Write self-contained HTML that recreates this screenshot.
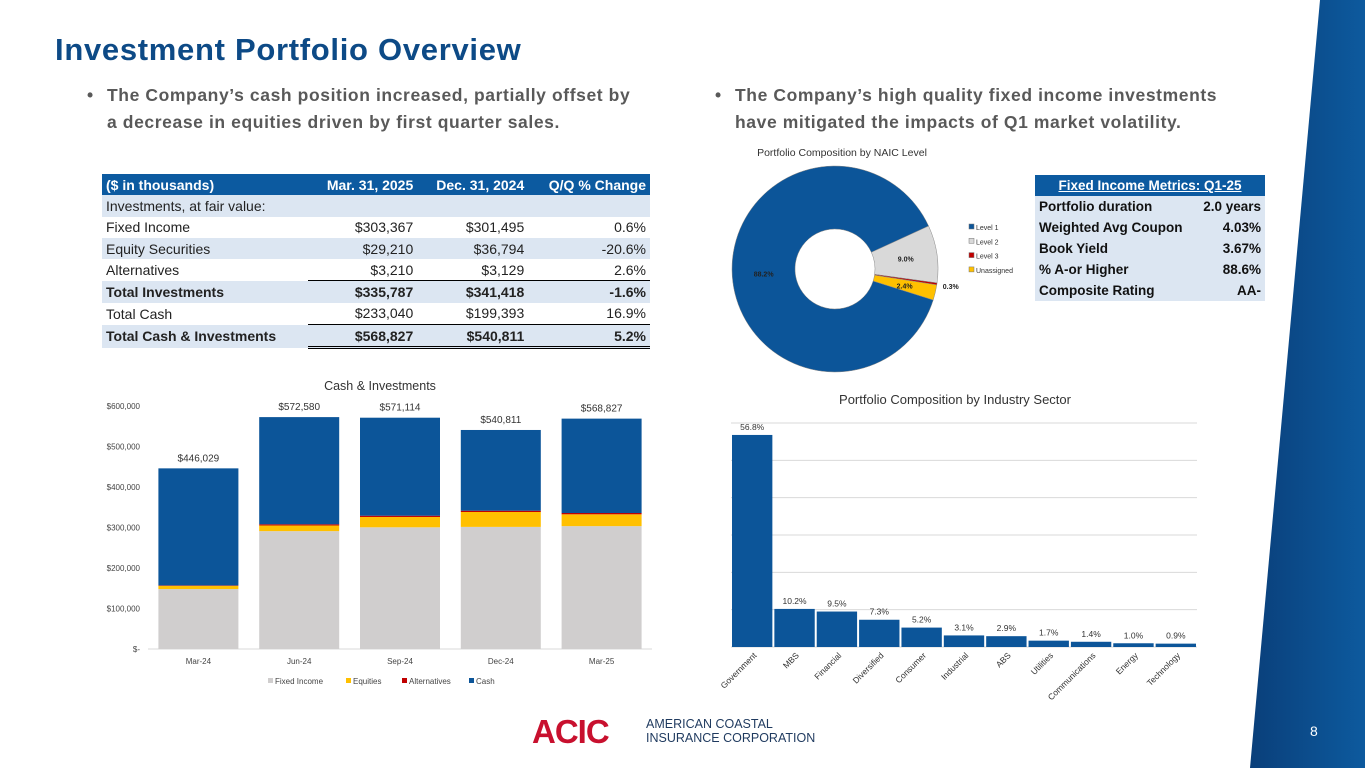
<!DOCTYPE html>
<html><head><meta charset="utf-8">
<style>
body{margin:0;width:1365px;height:768px;overflow:hidden;background:#fff;font-family:"Liberation Sans",sans-serif;position:relative}
.abs{position:absolute}
h1{position:absolute;left:55px;top:32px;margin:0;font-size:31px;color:#0d4a86;font-weight:bold;letter-spacing:0.7px}
.bul{position:absolute;font-size:17.5px;font-weight:bold;color:#595959;line-height:27px;letter-spacing:0.6px}
.bul span.dot{position:absolute;left:-20px}
table{border-collapse:collapse;font-family:"Liberation Sans",sans-serif}
#fin{position:absolute;left:102px;top:174px;width:548px;font-size:14px;color:#222}
#fin td{height:21.3px;padding:0 4px;white-space:nowrap}
#fin tr.h td{background:#0c5aa0;color:#fff;font-weight:bold}
#fin tr.l td{background:#dce6f2}
#fin td.r{text-align:right}
#fin tr.b td{font-weight:bold}
#met{position:absolute;left:1035px;top:175px;width:230px;font-size:13.5px;font-weight:bold;color:#111}
#met td{background:#dce6f2;height:21px;padding:0 4px;white-space:nowrap}
#met tr.h td{background:#0c5aa0;color:#fff;text-align:center;text-decoration:underline}
</style></head><body>
<svg class="abs" style="left:0;top:0" width="1365" height="768">
<defs><linearGradient id="g" x1="0" x2="1"><stop offset="0" stop-color="#0a3f7a"/><stop offset="1" stop-color="#0d5a9e"/></linearGradient></defs>
<polygon points="1320,0 1365,0 1365,768 1250,768" fill="url(#g)"/>
<text x="1310" y="736" fill="#fff" font-size="14" font-family="Liberation Sans">8</text>
</svg>
<h1>Investment Portfolio Overview</h1>
<div class="bul" style="left:107px;top:82px;width:545px"><span class="dot">•</span>The Company’s cash position increased, partially offset by<br>a decrease in equities driven by first quarter sales.</div>
<div class="bul" style="left:735px;top:82px;width:520px"><span class="dot">•</span>The Company’s high quality fixed income investments have mitigated the impacts of Q1 market volatility.</div>

<table id="fin">
<tr class="h"><td>($ in thousands)</td><td class="r">Mar. 31, 2025</td><td class="r">Dec. 31, 2024</td><td class="r">Q/Q % Change</td></tr>
<tr class="l"><td>Investments, at fair value:</td><td></td><td></td><td></td></tr>
<tr><td>Fixed Income</td><td class="r">$303,367</td><td class="r">$301,495</td><td class="r">0.6%</td></tr>
<tr class="l"><td>Equity Securities</td><td class="r">$29,210</td><td class="r">$36,794</td><td class="r">-20.6%</td></tr>
<tr><td>Alternatives</td><td class="r">$3,210</td><td class="r">$3,129</td><td class="r">2.6%</td></tr>
<tr class="l b"><td>Total Investments</td><td class="r" style="border-top:1px solid #000">$335,787</td><td class="r" style="border-top:1px solid #000">$341,418</td><td class="r" style="border-top:1px solid #000">-1.6%</td></tr>
<tr><td>Total Cash</td><td class="r">$233,040</td><td class="r">$199,393</td><td class="r">16.9%</td></tr>
<tr class="l b"><td>Total Cash &amp; Investments</td><td class="r" style="border-top:1px solid #000;border-bottom:3px double #000">$568,827</td><td class="r" style="border-top:1px solid #000;border-bottom:3px double #000">$540,811</td><td class="r" style="border-top:1px solid #000;border-bottom:3px double #000">5.2%</td></tr>
</table>

<table id="met">
<tr class="h"><td colspan="2">Fixed Income Metrics: Q1-25</td></tr>
<tr><td>Portfolio duration</td><td style="text-align:right">2.0 years</td></tr>
<tr><td>Weighted Avg Coupon</td><td style="text-align:right">4.03%</td></tr>
<tr><td>Book Yield</td><td style="text-align:right">3.67%</td></tr>
<tr><td>% A-or Higher</td><td style="text-align:right">88.6%</td></tr>
<tr><td>Composite Rating</td><td style="text-align:right">AA-</td></tr>
</table>

<svg id="c1" class="abs" style="left:0;top:0" width="1365" height="768"></svg>

<div class="abs" style="left:530px;top:712px;width:300px;height:40px">
<span style="position:absolute;left:2px;top:1px;font-size:33px;font-weight:bold;color:#c8102e;letter-spacing:-1px">ACIC</span>
<span style="position:absolute;left:116px;top:5px;font-size:12.5px;color:#1f3a5f;line-height:14px">AMERICAN COASTAL<br>INSURANCE CORPORATION</span>
</div>

<script>
const NS="http://www.w3.org/2000/svg";
const svg=document.getElementById('c1');
function mk(tag,attrs,parent,txt){const e=document.createElementNS(NS,tag);for(const k in attrs)e.setAttribute(k,attrs[k]);if(txt!==undefined)e.textContent=txt;(parent||svg).appendChild(e);return e;}

// ---- Cash & Investments stacked bar ----
const periods=["Mar-24","Jun-24","Sep-24","Dec-24","Mar-25"];
const fixedIncome=[148000,291000,300500,301495,303367];
const equities=[8000,14000,25500,36794,29210];
const alternatives=[1000,3000,3100,3129,3210];
const cash=[289029,264580,242014,199393,233040];
const totalLabels=["$446,029","$572,580","$571,114","$540,811","$568,827"];
const yTicks=[0,100000,200000,300000,400000,500000,600000];
const yTickLabels=["$-","$100,000","$200,000","$300,000","$400,000","$500,000","$600,000"];
const seriesNames=["Fixed Income","Equities","Alternatives","Cash"];
const seriesColors=["#d0cece","#ffc000","#c00000","#0c5599"];

const X0=148,X1=652,Yb=649,Yt=406;
const ys=v=>Yb-(v/600000)*(Yb-Yt);
const step=(X1-X0)/periods.length;
const xc=i=>X0+step*(i+0.5);
const t1=mk('text',{x:380,y:390,'text-anchor':'middle','font-size':12.5,fill:'#333'},svg,"Cash & Investments");


yTicks.forEach((v,i)=>{const t=mk('text',{x:140,y:ys(v)+3,'text-anchor':'end','font-size':8,fill:'#444'},svg,yTickLabels[i]);

});
mk('line',{x1:X0,x2:X1,y1:Yb,y2:Yb,stroke:'#d9d9d9'});
const series=[fixedIncome,equities,alternatives,cash];
periods.forEach((p,i)=>{let acc=0;const bw=80;
 series.forEach((s,k)=>{const y0=ys(acc),y1=ys(acc+s[i]);acc+=s[i];
  const r=mk('rect',{x:xc(i)-bw/2,y:y1,width:bw,height:y0-y1,fill:seriesColors[k]});
  
  });
 const tl=mk('text',{x:xc(i),y:ys(acc)-7,'text-anchor':'middle','font-size':10,fill:'#333'},svg,totalLabels[i]);
 
 
 const xl=mk('text',{x:xc(i),y:664,'text-anchor':'middle','font-size':8,fill:'#444'},svg,p);
 
 
});
const legX=[268,346,402,469];
seriesNames.forEach((n,k)=>{mk('rect',{x:legX[k],y:678,width:5,height:5,fill:seriesColors[k]});
 const t=mk('text',{x:legX[k]+7,y:684,'font-size':8,fill:'#444'},svg,n);
 
 });

// ---- NAIC donut ----
const naicLevels=["Level 1","Level 2","Level 3","Unassigned"];
const naicValues=[88.2,9.0,0.3,2.4];
const naicColors=["#0c5599","#d9d9d9","#c00000","#ffc000"];
const naicLabels=["88.2%","9.0%","0.3%","2.4%"];
const cx=835,cy=269,R=103,Ri=40;
const dt=mk('text',{x:842,y:156,'text-anchor':'middle','font-size':10.5,fill:'#333'},svg,"Portfolio Composition by NAIC Level");


const pt=(a,r)=>[cx+r*Math.sin(a*Math.PI/180),cy-r*Math.cos(a*Math.PI/180)];
const total=naicValues.reduce((a,b)=>a+b,0);
let a0=107.5;
naicValues.forEach((v,i)=>{const sw=360*v/total,a1=a0+sw;const [x1,y1]=pt(a0,R),[x2,y2]=pt(a1,R),[x3,y3]=pt(a1,Ri),[x4,y4]=pt(a0,Ri);const lg=sw>180?1:0;
 const p=mk('path',{d:`M${x1},${y1} A${R},${R} 0 ${lg} 1 ${x2},${y2} L${x3},${y3} A${Ri},${Ri} 0 ${lg} 0 ${x4},${y4} Z`,fill:naicColors[i],stroke:'#888','stroke-width':0.5});
 
 
 const mid=(a0+a1)/2;let [lx,ly]=pt(mid,(R+Ri)/2);
 if(v<1){[lx,ly]=pt(mid,R+14);}
 const t=mk('text',{x:lx,y:ly+3,'text-anchor':'middle','font-size':7,fill:'#222','font-weight':'bold'},svg,naicLabels[i]);
 
 
 a0=a1;});
naicLevels.forEach((n,i)=>{const y=229+i*14.3;mk('rect',{x:969,y:y-5,width:5,height:5,fill:naicColors[i],stroke:'#777','stroke-width':0.5});
 const t=mk('text',{x:976,y:y+1,'font-size':7,fill:'#333'},svg,n);
 
 });

// ---- Industry sector bar ----
const sectors=["Government","MBS","Financial","Diversified","Consumer","Industrial","ABS","Utilities","Communications","Energy","Technology"];
const sectorValues=[56.8,10.2,9.5,7.3,5.2,3.1,2.9,1.7,1.4,1.0,0.9];
const sectorGrid=[0,10,20,30,40,50,60];
const SX0=731,SX1=1197,SYb=647,SYt=423;
const sy=v=>SYb-(v/60)*(SYb-SYt);
const sstep=(SX1-SX0)/sectors.length;
const st=mk('text',{x:955,y:404,'text-anchor':'middle','font-size':13,fill:'#333'},svg,"Portfolio Composition by Industry Sector");


sectorGrid.forEach(g=>{mk('line',{x1:SX0,x2:SX1,y1:sy(g),y2:sy(g),stroke:'#d9d9d9'});});
sectors.forEach((s,i)=>{const x=SX0+i*sstep+1;
 const r=mk('rect',{x:x,y:sy(sectorValues[i]),width:sstep-2,height:SYb-sy(sectorValues[i]),fill:'#0c5599'});
 
 
 const t=mk('text',{x:x+sstep/2-1,y:sy(sectorValues[i])-5,'text-anchor':'middle','font-size':8.5,fill:'#333'},svg,sectorValues[i].toFixed(1)+"%");
 
 
 const cxl=x+sstep/2+4;
 const l=mk('text',{x:cxl,y:656,'text-anchor':'end','font-size':8.5,fill:'#333',transform:`rotate(-45 ${cxl} 656)`},svg,s);
 
 
});
</script>
</body></html>
